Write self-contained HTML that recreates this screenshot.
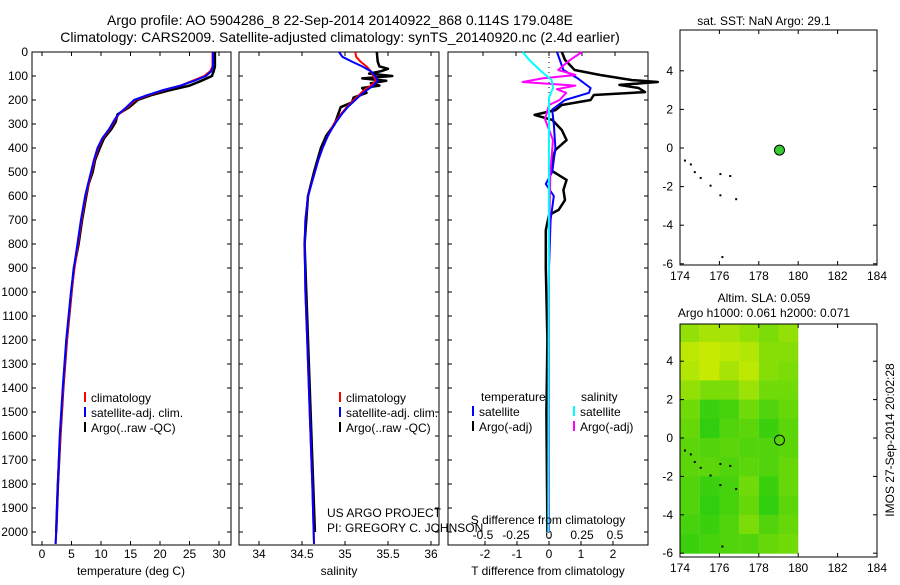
<!DOCTYPE html>
<html><head><meta charset="utf-8"><style>
body{margin:0;background:#fff;}
svg text{font-family:"Liberation Sans",sans-serif;fill:#000;}
</style></head><body>
<svg id="c" width="900" height="580" xmlns="http://www.w3.org/2000/svg">
<text x="340" y="25" font-size="14" text-anchor="middle">Argo profile: AO 5904286_8 22-Sep-2014 20140922_868 0.114S 179.048E</text>
<text x="340" y="42" font-size="14" text-anchor="middle">Climatology: CARS2009. Satellite-adjusted climatology: synTS_20140920.nc (2.4d earlier)</text>
<text x="764" y="25" font-size="12" text-anchor="middle">sat. SST: NaN Argo: 29.1</text>
<text x="764" y="302" font-size="12" text-anchor="middle">Altim. SLA: 0.059</text>
<text x="764" y="317" font-size="12" text-anchor="middle">Argo h1000: 0.061 h2000: 0.071</text>
<text transform="translate(894,440) rotate(-90)" font-size="12" text-anchor="middle">IMOS 27-Sep-2014 20:02:28</text>
<text x="327" y="517" font-size="12">US ARGO PROJECT</text>
<text x="327" y="532" font-size="12">PI: GREGORY C. JOHNSON</text>
</svg>
<script>
// ---- data ----
const tDepth=[0,60,80,100,120,140,160,180,200,230,260,290,320,360,400,450,500,550,600,700,800,900,1000,1200,1400,1600,1800,2000,2050];
const climT=[28.9,28.9,28.5,27.5,25.5,23.5,20.5,18,15.8,14.5,13,12.2,11.5,10.3,9.5,8.9,8.4,7.9,7.4,6.7,6.1,5.5,5.0,4.2,3.6,3.1,2.7,2.4,2.3];
const satT=[29.0,29.0,28.7,27.8,25.8,23.5,20.3,17.8,15.6,14.3,12.9,12.1,11.4,10.2,9.4,8.8,8.3,7.8,7.3,6.6,6.0,5.4,4.9,4.1,3.5,3.0,2.7,2.4,2.3];
const argoTDepth=[0,60,80,100,120,140,160,180,200,230,260,290,320,360,400,450,500,550,600,700,800,900,1000,1200,1400,1600,1800,2000];
const argoT=[29.3,29.3,29.1,28.8,27.0,25,21.5,18.5,16.2,14.8,12.8,12.5,11.8,10.5,9.8,9.0,8.6,7.9,7.5,6.8,6.2,5.4,5.0,4.2,3.6,3.1,2.7,2.4];
const sDepth=[0,20,40,60,80,100,120,140,160,180,200,230,260,300,350,400,450,500,600,700,800,1000,1200,1500,1800,2050];
const satS=[34.93,34.97,35.08,35.2,35.3,35.35,35.38,35.33,35.25,35.18,35.12,35.03,34.96,34.88,34.8,34.74,34.69,34.65,34.57,34.54,34.53,34.54,34.56,34.59,34.62,34.64];
const climS=[35.12,35.13,35.18,35.25,35.3,35.33,35.36,35.3,35.22,35.16,35.1,35.02,34.95,34.87,34.8,34.74,34.69,34.65,34.57,34.54,34.53,34.54,34.56,34.59,34.62,34.64];
const argoSDepth=[0,40,60,70,80,90,100,110,120,130,140,150,170,190,210,230,260,300,350,400,500,600,800,1000,1500,2000];
const argoS=[35.37,35.38,35.4,35.5,35.42,35.28,35.55,35.2,35.48,35.3,35.4,35.2,35.25,35.1,35.08,34.95,34.92,34.88,34.78,34.72,34.64,34.57,34.53,34.55,34.6,34.65];
const dTArgoDepth=[0,33,75,96,117,125,137,150,167,179,200,221,242,262,283,325,367,408,450,492,533,575,617,658,679,742,900,1200,1500,2000];
const dTArgo=[0.4,0.5,0.8,1.6,2.6,3.4,2.2,2.8,3.0,1.4,1.3,0.4,0.2,-0.45,0.1,0.4,0.55,0.2,0.1,0.05,0.55,0.45,0.5,0.3,0,-0.1,-0.1,-0.05,-0.08,-0.05];
const dTSatDepth=[0,75,110,150,170,200,240,300,400,500,550,600,700,900,2000];
const dTSat=[0.25,0.45,0.9,1.3,1.25,0.5,0.1,0.15,0.2,0.1,-0.1,0.15,0.05,0,0];
const dSArgoDepth=[0,33,75,96,110,125,140,155,170,200,221,280,367,500,800,2000];
const dSArgo=[0.25,0.16,0.07,0.2,-0.05,-0.2,0.2,0.06,0.13,0.08,0,-0.03,0.03,0.01,0,0];
const dSSatDepth=[0,33,75,117,150,190,300,2000];
const dSSat=[-0.2,-0.15,-0.07,0.02,0.03,0,0,-0.005];
const depthTicks=[0,100,200,300,400,500,600,700,800,900,1000,1100,1200,1300,1400,1500,1600,1700,1800,1900,2000];
const tTicks=[0,5,10,15,20,25,30];
const sTicks=[34,34.5,35,35.5,36];
const dTTicks=[-2,-1,0,1,2];
const dSTicks=["-0.5","-0.25","0","0.25","0.5"];
const lonTicks=[174,176,178,180,182,184];
const latTicks=[4,2,0,-2,-4,-6];
const argoLon=179.05, argoLat=-0.11;
const coast=[[174.2,-0.6],[174.5,-0.8],[174.7,-1.2],[175.0,-1.5],[175.5,-1.9],[176.0,-2.4],[176.0,-1.3],[176.5,-1.4],[176.8,-2.6],[176.1,-5.6]];
const slaLat=[5.5,4.5,3.5,2.5,1.5,0.5,-0.5,-1.5,-2.5,-3.5,-4.5,-5.5];
const slaLon=[174.5,175.5,176.5,177.5,178.5,179.5];
const slaRows=[
[0.6,0.7,0.7,0.6,0.5,0.6],[0.8,0.85,0.8,0.75,0.55,0.55],[0.75,0.85,0.7,0.8,0.55,0.5],
[0.6,0.5,0.5,0.65,0.45,0.45],[0.45,0.2,0.25,0.45,0.3,0.4],[0.4,0.15,0.3,0.35,0.2,0.35],
[0.35,0.3,0.35,0.3,0.3,0.35],[0.35,0.35,0.3,0.35,0.3,0.4],[0.3,0.2,0.25,0.45,0.2,0.4],
[0.3,0.15,0.25,0.4,0.15,0.35],[0.25,0.2,0.3,0.5,0.3,0.4],[0.2,0.25,0.3,0.3,0.4,0.45]];

// ---- helpers ----
const svg=document.getElementById('c');const NS='http://www.w3.org/2000/svg';
function mk(tag,at,parent){const e=document.createElementNS(NS,tag);for(const k in at)e.setAttribute(k,at[k]);(parent||svg).appendChild(e);return e;}
function txt(x,y,s,anchor,size){const t=mk('text',{x:x,y:y,'font-size':size||12,'text-anchor':anchor||'middle'});t.textContent=s;return t;}
const yD=d=>52+d*0.24;
const P1={x0:32,x1:231}, P2={x0:239,x1:439}, P3={x0:448,x1:648};
const xT=v=>42+v*5.9, xS=v=>259+(v-34)*86, xdT=v=>549+v*32, xdS=v=>549+v*132;
function line(xs,ds,fx,color,w,name){
  let d='';for(let i=0;i<xs.length;i++)d+=(i?'L':'M')+fx(xs[i]).toFixed(1)+','+yD(ds[i]).toFixed(1);
  const p=mk('path',{d:d,fill:'none',stroke:color,'stroke-width':w,'stroke-linejoin':'round'});
  
  
}
function box(P,name){
  const r=mk('rect',{x:P.x0,y:52,width:P.x1-P.x0,height:493,fill:'none',stroke:'#000','stroke-width':1});
  
  
  depthTicks.forEach(d=>{mk('line',{x1:P.x0,x2:P.x0+4,y1:yD(d),y2:yD(d),stroke:'#000'});mk('line',{x1:P.x1-4,x2:P.x1,y1:yD(d),y2:yD(d),stroke:'#000'});});
}
function xticks(vals,fx,P,lbl){vals.forEach(v=>{const x=fx(v);mk('line',{x1:x,x2:x,y1:52,y2:56,stroke:'#000'});mk('line',{x1:x,x2:x,y1:541,y2:545,stroke:'#000'});if(lbl){const t=txt(x,558,String(v));}});}

// panel 1
box(P1,'temperature-panel');
depthTicks.forEach(d=>{const t=txt(28,yD(d)+4,String(d),'end');});
xticks(tTicks,xT,P1,true);
line(argoT,argoTDepth,xT,'#000',2.5,'argo-temperature-line');
line(climT,tDepth,xT,'#f00',2,'climatology-temperature-line');
line(satT,tDepth,xT,'#00f',2,'satellite-temperature-line');
let t=txt(131,575,'temperature (deg C)');

// panel 2
box(P2,'salinity-panel');
xticks(sTicks,xS,P2,true);
line(argoS,argoSDepth,xS,'#000',2.5,'argo-salinity-line');
line(climS,sDepth,xS,'#f00',2,'climatology-salinity-line');
line(satS,sDepth,xS,'#00f',2,'satellite-salinity-line');
t=txt(339,575,'salinity');

// legends 1/2
function legend(x,y,items,name){items.forEach((it,i)=>{const yy=y+i*15;
  mk('line',{x1:x,x2:x,y1:yy-10,y2:yy,stroke:it[0],'stroke-width':2});
  const tt=txt(x+6,yy,it[1],'start');});}
const L=[['#f00','climatology'],['#00f','satellite-adj. clim.'],['#000','Argo(..raw -QC)']];
legend(85,402,L,'temperature-legend');legend(340,402,L,'salinity-legend');

// panel 3
box(P3,'difference-panel');
dTTicks.forEach(v=>{const x=xdT(v);mk('line',{x1:x,x2:x,y1:541,y2:545,stroke:'#000'});const tt=txt(x,558,String(v));});
dSTicks.forEach(v=>{const x=xdS(parseFloat(v));mk('line',{x1:x,x2:x,y1:52,y2:56,stroke:'#000'});const tt=txt(x,539,v);});
mk('line',{x1:549,x2:549,y1:52,y2:545,stroke:'#000','stroke-dasharray':'1,4'});
line(dTArgo,dTArgoDepth,xdT,'#000',2.5,'argo-t-diff-line');
line(dTSat,dTSatDepth,xdT,'#00f',2,'satellite-t-diff-line');
line(dSArgo,dSArgoDepth,xdS,'#f0f',2,'argo-s-diff-line');
line(dSSat,dSSatDepth,xdS,'#0ff',2,'satellite-s-diff-line');
t=txt(548,524,'S difference from climatology');
t=txt(548,575,'T difference from climatology');
t=txt(481,401,'temperature','start');
t=txt(581,401,'salinity','start');
legend(473,416,[['#00f','satellite'],['#000','Argo(-adj)']],'t-diff-legend');
legend(574,416,[['#0ff','satellite'],['#f0f','Argo(-adj)']],'s-diff-legend');

// maps
const mx=v=>680+(v-174)*19.7;
function mapAxes(top,bot,yL,name){
  const r=mk('rect',{x:680,y:top,width:197,height:bot-top,fill:'none',stroke:'#000'});
  
  
  lonTicks.forEach(v=>{const x=mx(v);mk('line',{x1:x,x2:x,y1:bot-4,y2:bot,stroke:'#000'});mk('line',{x1:x,x2:x,y1:top,y2:top+4,stroke:'#000'});const tt=txt(x,bot+15,String(v));});
  latTicks.forEach(v=>{const y=yL(v);mk('line',{x1:680,x2:684,y1:y,y2:y,stroke:'#000'});mk('line',{x1:873,x2:877,y1:y,y2:y,stroke:'#000'});const tt=txt(673,y+4,String(v),'end');});
}
const yTop=v=>148-v*19.3, yBot=v=>438-v*19.2;
// SLA heatmap
function col(v){const a=[16,200,16],b=[232,240,0];return 'rgb('+a.map((c,i)=>Math.round(c+(b[i]-c)*v)).join(',')+')';}
slaRows.forEach((row,i)=>row.forEach((v,j)=>{
  const y0=Math.max(324,yBot(slaLat[i]+0.5)), y1=Math.min(557,yBot(slaLat[i]-0.5));
  const c=mk('rect',{x:mx(slaLon[j]-0.5),y:y0,width:19.8,height:y1-y0+0.5,fill:col(v)});
  
  
}));
mapAxes(30,265,yTop,'sst-map');
mapAxes(324,557,yBot,'sla-map');
coast.forEach(p=>{
  let d=mk('rect',{x:mx(p[0]),y:yTop(p[1]),width:2,height:2,fill:'#000'});
  
  
  d=mk('rect',{x:mx(p[0]),y:yBot(p[1]),width:2,height:2,fill:'#000'});
  
  
});
let m=mk('circle',{cx:mx(argoLon),cy:yTop(argoLat),r:5,fill:'#3c3',stroke:'#000'});


m=mk('circle',{cx:mx(argoLon),cy:yBot(argoLat),r:5,fill:'none',stroke:'#000'});


</script>
</body></html>
